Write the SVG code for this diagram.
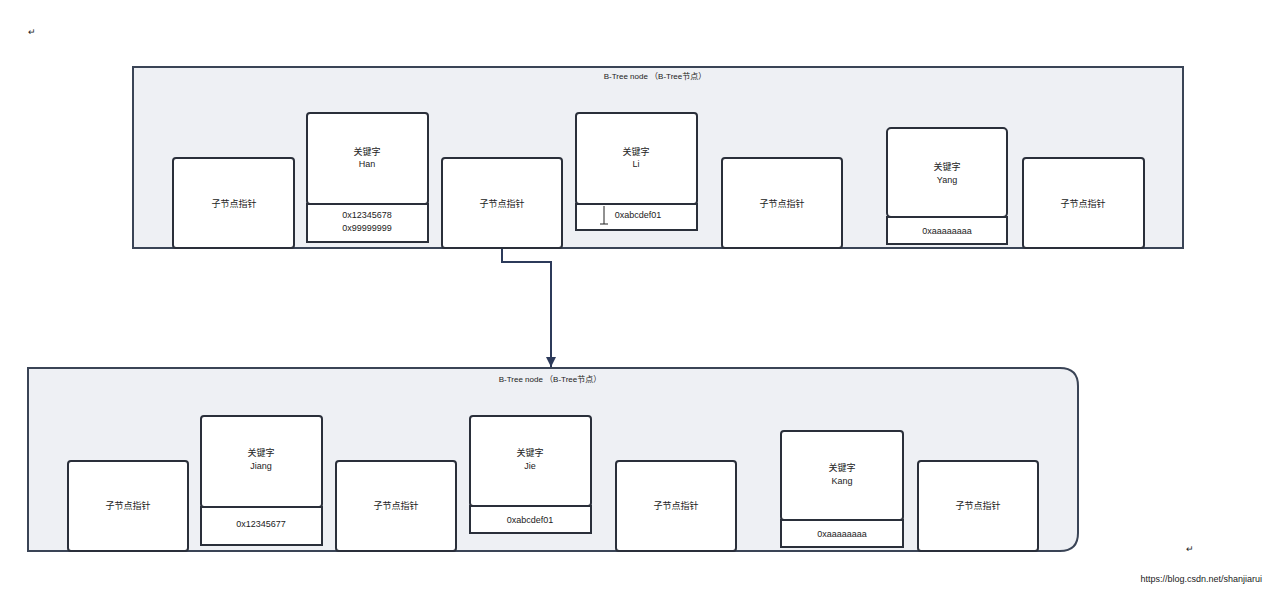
<svg xmlns="http://www.w3.org/2000/svg" width="1269" height="595" viewBox="0 0 1269 595">
<style>
.c{fill:#eef0f4;stroke:#3a4456;stroke-width:2}
.b{fill:#fff;stroke:#2a2f3a;stroke-width:2}
text{font-family:"Liberation Sans","Noto Sans CJK SC",sans-serif;font-size:9px;fill:#222;text-anchor:middle}
.t{font-size:8px}
</style>
<defs><marker id="ah" markerWidth="12" markerHeight="12" refX="10" refY="5" orient="auto" markerUnits="userSpaceOnUse"><path d="M0,0 L10,5 L0,10 Z" fill="#2c3a5a"/></marker></defs>
<rect width="1269" height="595" fill="#fff"/>
<text x="32" y="35" font-size="12">↵</text>
<text x="1190" y="552" font-size="12">↵</text>
<text x="1262" y="582" font-size="14" fill="#c8c8c8" style="text-anchor:end">https://blog.csdn.net/shanjiarui</text>
<g id="top">
<rect class="c" x="133" y="67" width="1050" height="181"/>
<text class="t" x="655" y="79">B-Tree node （B-Tree节点）</text>
</g>
<g id="t_p1"><rect class="b" x="173" y="158" width="121" height="90" rx="3"/><text x="234" y="207">子节点指针</text></g>
<g id="t_han"><rect class="b" x="307" y="113" width="121" height="91" rx="3"/><text x="367" y="155">关键字</text><text x="367" y="167">Han</text>
<rect class="b" x="307" y="204" width="121" height="38"/><text x="367" y="218">0x12345678</text><text x="367" y="231">0x99999999</text></g>
<g id="t_p2"><rect class="b" x="442" y="158" width="120" height="90" rx="3"/><text x="502" y="207">子节点指针</text></g>
<g id="t_li"><rect class="b" x="576" y="113" width="121" height="91" rx="3"/><text x="636" y="155">关键字</text><text x="636" y="167">Li</text>
<rect class="b" x="576" y="204" width="121" height="26"/><text x="638" y="218">0xabcdef01</text>
<path d="M604,206 V224 M600,224 H608" stroke="#222" stroke-width="1"/></g>
<g id="t_p3"><rect class="b" x="722" y="158" width="120" height="90" rx="3"/><text x="782" y="207">子节点指针</text></g>
<g id="t_yang"><rect class="b" x="887" y="128" width="120" height="89" rx="4"/><text x="947" y="170">关键字</text><text x="947" y="183">Yang</text>
<rect class="b" x="887" y="217" width="120" height="27"/><text x="947" y="234">0xaaaaaaaa</text></g>
<g id="t_p4"><rect class="b" x="1023" y="158" width="121" height="90" rx="3"/><text x="1083" y="207">子节点指针</text></g>

<g id="bottom">
<path class="c" d="M28,368 H1060 Q1078,368 1078,386 V533 Q1078,551 1060,551 H28 Z"/>
<text class="t" x="550" y="382">B-Tree node （B-Tree节点）</text>
</g>
<g id="b_p1"><rect class="b" x="68" y="461" width="120" height="90" rx="3"/><text x="128" y="509">子节点指针</text></g>
<g id="b_jiang"><rect class="b" x="201" y="416" width="121" height="91" rx="3"/><text x="261" y="456">关键字</text><text x="261" y="469">Jiang</text>
<rect class="b" x="201" y="507" width="121" height="38"/><text x="261" y="527">0x12345677</text></g>
<g id="b_p2"><rect class="b" x="336" y="461" width="120" height="90" rx="3"/><text x="396" y="509">子节点指针</text></g>
<g id="b_jie"><rect class="b" x="470" y="416" width="121" height="90" rx="3"/><text x="530" y="456">关键字</text><text x="530" y="469">Jie</text>
<rect class="b" x="470" y="506" width="121" height="27"/><text x="530" y="523">0xabcdef01</text></g>
<g id="b_p3"><rect class="b" x="616" y="461" width="120" height="90" rx="3"/><text x="676" y="509">子节点指针</text></g>
<g id="b_kang"><rect class="b" x="781" y="431" width="122" height="89" rx="3"/><text x="842" y="471">关键字</text><text x="842" y="484">Kang</text>
<rect class="b" x="781" y="520" width="122" height="27"/><text x="842" y="537">0xaaaaaaaa</text></g>
<g id="b_p4"><rect class="b" x="918" y="461" width="120" height="90" rx="3"/><text x="978" y="509">子节点指针</text></g>

<g id="connectors">
<path d="M502,249 V262 H551 V367" fill="none" stroke="#2c3a5a" stroke-width="2" marker-end="url(#ah)"/>
</g>
</svg>
